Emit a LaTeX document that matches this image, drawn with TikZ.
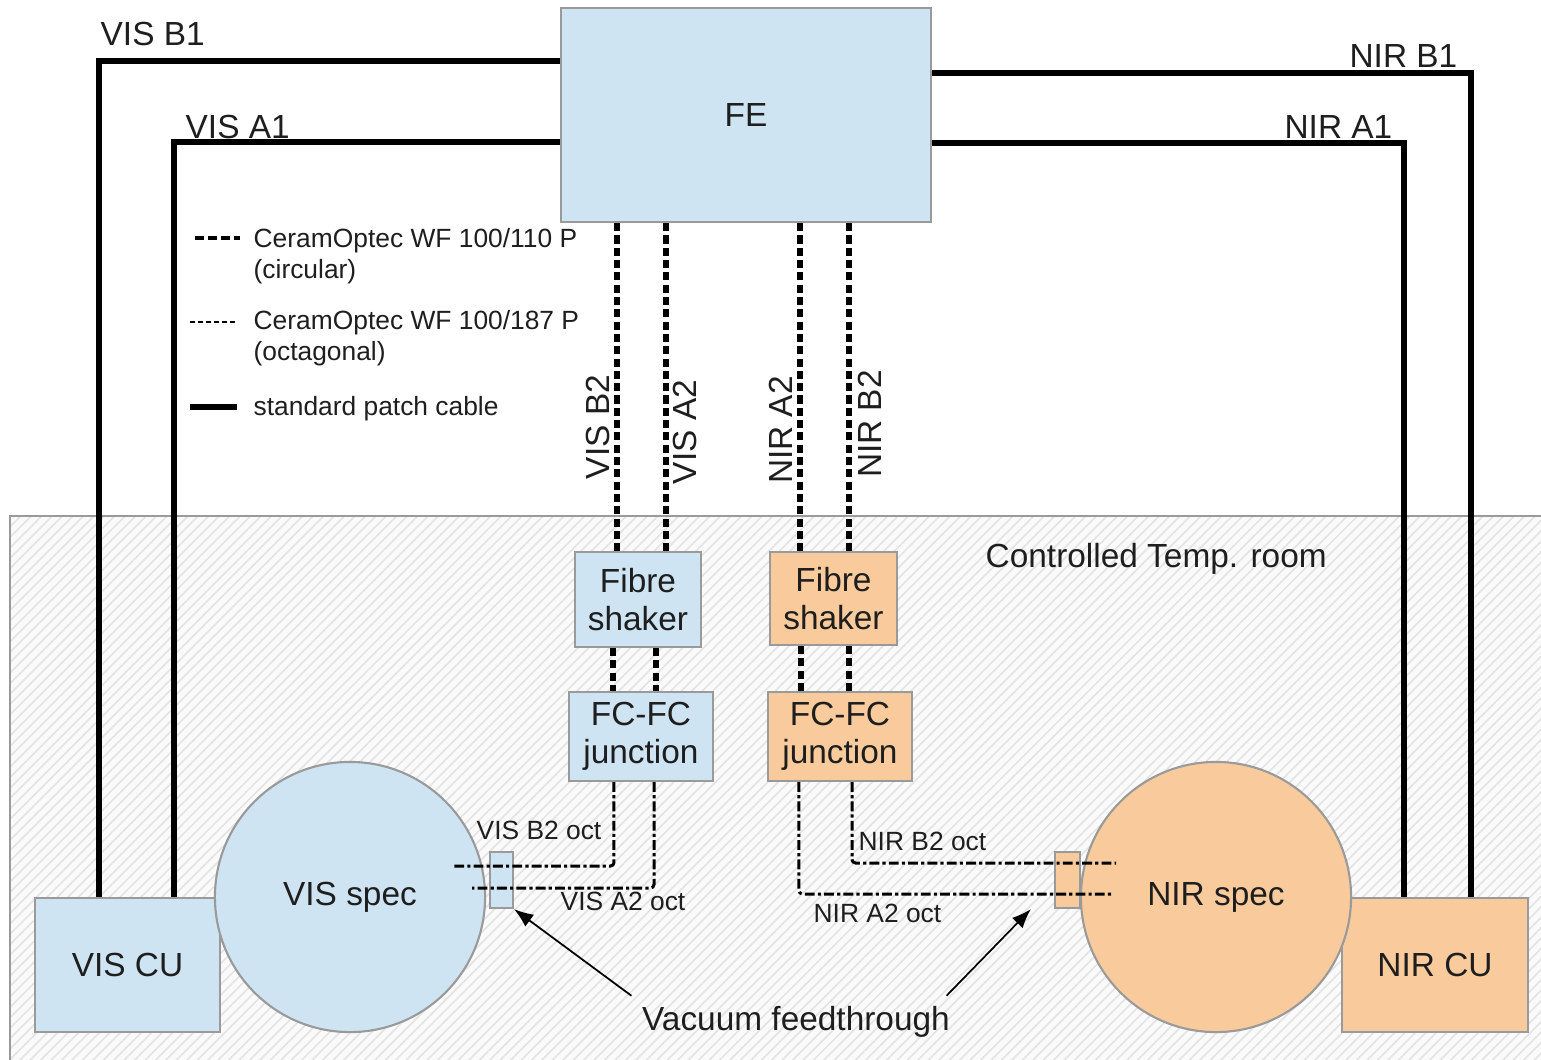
\documentclass[tikz,border=0pt]{standalone}
\usepackage{fontspec}
\setmainfont{Liberation Sans}
\usepackage{xcolor}
\usetikzlibrary{positioning,arrows.meta,patterns.meta}

\definecolor{visblue}{HTML}{CFE4F2}
\definecolor{nirorange}{HTML}{F9CB9C}
\definecolor{edgegray}{HTML}{9A9A9A}
\definecolor{inkblack}{HTML}{1E1E1E}

\begin{document}
\begin{tikzpicture}[x=0.01cm, y=-0.01cm,
  box/.style={draw=edgegray, line width=0.6pt, align=center, inner sep=0pt, text=inkblack, font=\fontsize{9.5}{10.7}\selectfont},
  visbox/.style={box, fill=visblue},
  nirbox/.style={box, fill=nirorange},
  specbox/.style={box, circle, minimum size=2.7cm},
  lbl/.style={inner sep=0pt, text=inkblack, font=\fontsize{9.5}{11}\selectfont},
  smalllbl/.style={inner sep=0pt, text=inkblack, font=\fontsize{7.5}{8.6}\selectfont, align=left},
  patch/.style={line width=1.5pt},
  circfib/.style={line width=1.7pt, dash pattern=on 2.3pt off 1.2pt},
  octfib/.style={line width=0.85pt, rounded corners=1pt, dash pattern=on 2.8pt off 0.9pt on 0.9pt off 0.9pt},
  thinfib/.style={line width=0.45pt, dash pattern=on 1.4pt off 0.9pt},
  feedarrow/.style={-{Latex[length=5.5pt,width=4.2pt]}, line width=0.5pt}
]
\useasboundingbox (0,0) rectangle (1541,1059);

% controlled temperature room
\path[draw=edgegray, line width=0.5pt, preaction={fill=gray!4},
  pattern={Lines[angle=45,distance=2.1pt,line width=0.45pt]}, pattern color=gray!22]
  (10,516) rectangle (1560,1080);
\node[lbl, anchor=base west] (roomlbl) at (985,567) {Controlled Temp. room};

% front end
\node[visbox, minimum width=3.70cm, minimum height=2.14cm] (fe) at (746,115) {FE};

% shakers and junctions
\node[visbox, minimum width=1.26cm, minimum height=0.95cm] (visshaker) at (638,599.5) {Fibre\\shaker};
\node[nirbox, minimum width=1.27cm, minimum height=0.93cm] (nirshaker) at (833.5,598.5) {Fibre\\shaker};
\node[visbox, minimum width=1.44cm, minimum height=0.89cm] (visfc) at (641,736.5) {FC-FC\\junction};
\node[nirbox, minimum width=1.44cm, minimum height=0.89cm] (nirfc) at (840,736.5) {FC-FC\\junction};

% calibration units and spectrographs
\node[visbox, minimum width=1.85cm, minimum height=1.34cm] (viscu) at (127.5,965) {VIS CU};
\node[nirbox, minimum width=1.86cm, minimum height=1.34cm] (nircu) at (1435,965) {NIR CU};
\node[specbox, fill=visblue] (visspec) at (350,897) {VIS spec};
\node[specbox, fill=nirorange] (nirspec) at (1216,897) {NIR spec};

% vacuum feedthroughs
\node[visbox, minimum width=0.23cm, minimum height=0.56cm] (visft) at (501.5,880) {};
\node[nirbox, minimum width=0.25cm, minimum height=0.56cm] (nirft) at (1067.5,880) {};

% patch cables
\draw[patch] ([yshift=-0.54cm]fe.north west) -| ([xshift=0.65cm]viscu.north west);
\draw[patch] ([yshift=-1.35cm]fe.north west) -| ([xshift=1.40cm]viscu.north west);
\draw[patch] ([yshift=-0.66cm]fe.north east) -| ([xshift=1.30cm]nircu.north west);
\draw[patch] ([yshift=-1.36cm]fe.north east) -| ([xshift=0.63cm]nircu.north west);
\node[lbl, anchor=base west] (visb1) at (100,45) {VIS B1};
\node[lbl, anchor=base west] (visa1) at (185,138) {VIS A1};
\node[lbl, anchor=base east] (nirb1) at (1458,67) {NIR B1};
\node[lbl, anchor=base east] (nira1) at (1393,138) {NIR A1};

% circular fibres
\foreach \dx in {-0.21,0.28} {
  \path ([xshift=\dx cm]visshaker.north) coordinate (top);
  \draw[circfib] (top |- fe.south) -- (top);
}
\foreach \dx in {-0.335,0.155} {
  \path ([xshift=\dx cm]nirshaker.north) coordinate (top);
  \draw[circfib] (top |- fe.south) -- (top);
}
\foreach \dx in {-0.25,0.18} {
  \path ([xshift=\dx cm]visshaker.south) coordinate (bot);
  \draw[circfib] (bot) -- (bot |- visfc.north);
}
\foreach \dx in {-0.325,0.155} {
  \path ([xshift=\dx cm]nirshaker.south) coordinate (bot);
  \draw[circfib] (bot) -- (bot |- nirfc.north);
}
\node[lbl, rotate=90] (visb2) at (598,427) {VIS B2};
\node[lbl, rotate=90] (visa2) at (685,432) {VIS A2};
\node[lbl, rotate=90] (nira2) at (781,430) {NIR A2};
\node[lbl, rotate=90] (nirb2) at (870,424) {NIR B2};

% octagonal fibres
\coordinate (visB2end) at (453,866);
\coordinate (visA2end) at (472,888);
\coordinate (nirB2end) at (1116,863);
\coordinate (nirA2end) at (1112,894);
\draw[octfib] ([xshift=-0.27cm]visfc.south) |- (visB2end);
\draw[octfib] ([xshift=0.13cm]visfc.south) |- (visA2end);
\draw[octfib] ([xshift=0.12cm]nirfc.south) |- (nirB2end);
\draw[octfib] ([xshift=-0.41cm]nirfc.south) |- (nirA2end);
\node[smalllbl, anchor=base west] (visb2oct) at (476,839) {VIS B2 oct};
\node[smalllbl, anchor=base west] (visa2oct) at (560,910) {VIS A2 oct};
\node[smalllbl, anchor=base west] (nirb2oct) at (858,850) {NIR B2 oct};
\node[smalllbl, anchor=base west] (nira2oct) at (813,922) {NIR A2 oct};

% vacuum feedthrough pointers
\node[lbl, inner sep=0.1cm] (vac) at (796,1022) {Vacuum feedthrough};
\draw[feedarrow] (vac.north west) -- (visft.south east);
\draw[feedarrow] ([xshift=-0.14cm]vac.north east) -- ([xshift=-0.23cm]nirft.south west);

% legend
\node[smalllbl, anchor=north west] (legcirc) at (253,228) {CeramOptec WF 100/110 P\\(circular)};
\node[smalllbl, anchor=north west] (legoct) at (253,310) {CeramOptec WF 100/187 P\\(octagonal)};
\node[smalllbl, anchor=north west] (legpatch) at (253,396) {standard patch cable};
\coordinate (k1a) at (195,238); \coordinate (k1b) at (240,238);
\coordinate (k2a) at (190,322); \coordinate (k2b) at (237,322);
\coordinate (k3a) at (190,407); \coordinate (k3b) at (237,407);
\draw[circfib, line width=1.3pt, dash pattern=on 2.6pt off 1.1pt] (k1a) -- (k1b);
\draw[thinfib] (k2a) -- (k2b);
\draw[patch] (k3a) -- (k3b);
\end{tikzpicture}
\end{document}
